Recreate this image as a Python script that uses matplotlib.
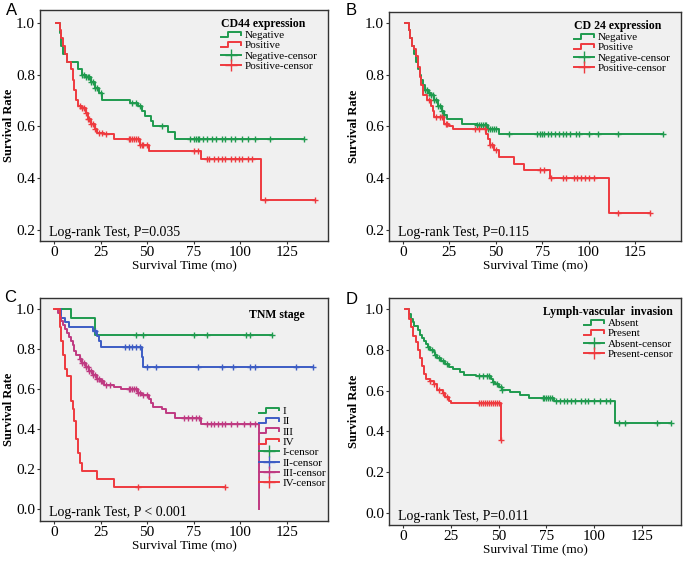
import numpy as np
import matplotlib
matplotlib.use("Agg")
import matplotlib.pyplot as plt
from matplotlib.lines import Line2D
from matplotlib.legend_handler import HandlerBase

plt.rcParams['font.family'] = ['Liberation Serif', 'DejaVu Serif']

GREEN = '#1f9a4e'
RED = '#ee3a3f'
BLUE = '#3d5cc4'
MAGENTA = '#bf3a82'
BG = '#f0f0f0'

# ---- panel A: CD44 ----
a_neg_t = [1, 3, 3.5, 4, 5, 7, 13, 15, 17, 20, 22, 24, 26, 41, 45, 47, 49, 52, 53, 61, 65, 134]
a_neg_s = [1.0, 0.96, 0.935, 0.91, 0.88, 0.85, 0.82, 0.80, 0.79, 0.77, 0.75, 0.73, 0.70,
           0.69, 0.68, 0.66, 0.64, 0.62, 0.60, 0.58, 0.55, 0.55]
a_neg_c = [15, 16, 17, 18, 19, 20, 21, 22, 23, 25, 42, 44, 46, 58, 73, 75, 76, 77, 78, 80,
           82, 85, 87, 90, 92, 95, 97, 101, 104, 108, 116, 134]
a_pos_t = [1, 3, 4, 5, 6, 7, 9, 10, 11, 12, 13, 15, 17, 18, 20, 22, 23, 27, 32, 46, 51, 79, 111, 140]
a_pos_s = [1.0, 0.97, 0.94, 0.91, 0.88, 0.85, 0.82, 0.78, 0.74, 0.70, 0.68, 0.67, 0.65, 0.63,
           0.61, 0.59, 0.575, 0.57, 0.55, 0.53, 0.505, 0.475, 0.315, 0.315]
a_pos_c = [14, 15, 16, 17, 18, 19, 20, 21, 22, 24, 26, 28, 40, 41, 42, 43, 44, 45, 46, 47, 48, 50,
           75, 77, 82, 83, 86, 88, 90, 92, 95, 97, 99, 101, 104, 106, 113, 140]

# ---- panel B: CD24 ----
b_neg_t = [1, 3, 4, 5, 6, 7, 8, 9, 10, 11, 12, 14, 15, 17, 19, 21, 22, 24, 32, 40, 46, 52, 140]
b_neg_s = [1.0, 0.97, 0.94, 0.91, 0.88, 0.85, 0.82, 0.80, 0.78, 0.76, 0.74, 0.73, 0.72, 0.70,
           0.68, 0.66, 0.645, 0.63, 0.61, 0.605, 0.59, 0.57, 0.57]
b_neg_c = [12, 13, 14, 15, 16, 17, 18, 19, 20, 21, 22, 40, 41, 42, 43, 44, 45, 46, 47, 48, 49, 50,
           57, 72, 74, 75, 76, 78, 80, 82, 84, 86, 88, 90, 93, 95, 100, 105, 116, 140]
b_pos_t = [1, 3, 4, 5, 6, 7, 8, 9, 10, 11, 13, 15, 16, 17, 22, 25, 27, 45, 46, 47, 49, 52, 60,
           65, 79, 111, 133]
b_pos_s = [1.0, 0.97, 0.94, 0.91, 0.90, 0.87, 0.83, 0.79, 0.76, 0.72, 0.70, 0.68, 0.66, 0.635,
           0.61, 0.60, 0.59, 0.57, 0.55, 0.53, 0.51, 0.48, 0.455, 0.43, 0.40, 0.265, 0.265]
b_pos_c = [14, 18, 20, 21, 23, 24, 39, 41, 44, 47, 48, 50, 74, 76, 80, 86, 88, 92, 94, 96, 98,
           100, 103, 116, 133]

# ---- panel C: TNM stage ----
c1_t = [1, 9, 22, 117]
c1_s = [1.0, 0.955, 0.87, 0.87]
c1_c = [44, 48, 75, 82, 103, 105, 117]
c2_t = [2, 4, 6, 8, 21, 23, 24, 25, 47, 48, 139]
c2_s = [1.0, 0.955, 0.935, 0.91, 0.89, 0.865, 0.84, 0.81, 0.76, 0.71, 0.71]
c2_c = [22, 38, 40, 42, 44, 46, 50, 55, 77, 90, 96, 105, 108, 130, 139]
c3_t = [1, 2, 3, 4, 5, 6, 7, 8, 9, 10, 11, 12, 14, 15, 17, 19, 21, 23, 25, 27, 32, 36, 45,
        47, 51, 52, 53, 58, 60, 65, 79, 110]
c3_s = [1.0, 0.98, 0.96, 0.94, 0.92, 0.90, 0.88, 0.86, 0.84, 0.82, 0.79, 0.77, 0.75, 0.73,
        0.71, 0.69, 0.67, 0.65, 0.64, 0.62, 0.61, 0.60, 0.58, 0.57, 0.55, 0.53, 0.51, 0.50,
        0.48, 0.455, 0.425, 0.0]
c3_c = [14, 15, 16, 17, 18, 19, 20, 21, 22, 23, 24, 25, 26, 28, 30, 40, 41, 42, 43, 44, 45,
        46, 48, 50, 70, 72, 74, 76, 78, 82, 84, 86, 88, 90, 92, 95, 98, 102, 105, 108]
c4_t = [0, 3, 4, 5, 6, 7, 9, 10, 11, 12, 13, 14, 15, 23, 32, 92]
c4_s = [1.0, 0.91, 0.84, 0.77, 0.70, 0.665, 0.54, 0.50, 0.44, 0.35, 0.28, 0.23, 0.19, 0.15,
        0.11, 0.11]
c4_c = [45, 92]

# ---- panel D: lymph-vascular invasion ----
d_abs_t = [2, 3, 4, 5, 6, 8, 9, 10, 11, 12, 13, 14, 16, 17, 18, 20, 22, 24, 26, 30, 32, 38,
           46, 47, 48, 50, 52, 56, 61, 66, 79, 111, 140]
d_abs_s = [1.0, 0.975, 0.95, 0.935, 0.915, 0.895, 0.875, 0.86, 0.845, 0.83, 0.815, 0.80,
           0.79, 0.775, 0.76, 0.745, 0.73, 0.715, 0.705, 0.69, 0.675, 0.67, 0.655, 0.64, 0.63,
           0.62, 0.605, 0.595, 0.58, 0.565, 0.55, 0.44, 0.44]
d_abs_c = [13, 15, 17, 19, 21, 23, 40, 42, 44, 45, 47, 49, 51, 52, 73, 74, 75, 76, 77, 78,
           80, 82, 84, 86, 88, 90, 93, 95, 97, 100, 103, 106, 108, 113, 116, 133, 140]
d_pre_t = [1, 3, 4, 5, 7, 8, 9, 10, 11, 12, 14, 16, 18, 21, 22, 24, 25, 51]
d_pre_s = [1.0, 0.95, 0.91, 0.87, 0.84, 0.80, 0.76, 0.72, 0.68, 0.655, 0.645, 0.63, 0.605,
           0.59, 0.57, 0.55, 0.54, 0.36]
d_pre_c = [14, 16, 19, 21, 23, 40, 41, 42, 43, 44, 45, 46, 47, 48, 49, 50, 51]


class StepHandler(HandlerBase):
    def create_artists(self, legend, orig_handle, xdescent, ydescent, width, height, fontsize, trans):
        x = np.array([0, 0.35, 0.35, 1.0, 1.0]) * width - xdescent
        y = np.array([0.15, 0.15, 0.8, 0.8, 0.45]) * height - ydescent
        ln = Line2D(x, y, color=orig_handle.get_color(), lw=orig_handle.get_linewidth(),
                    transform=trans)
        return [ln]


class StepKey(Line2D):
    pass


def km(ax, t, s, c, color):
    t = np.asarray(t, float)
    s = np.asarray(s, float)
    ax.step(t, s, where='post', color=color, lw=1.4)
    c = np.asarray(c, float)
    idx = np.searchsorted(t, c, side='right') - 1
    ax.plot(c, s[idx], ls='none', marker='+', ms=5, mew=1.0, color=color)


def style(ax, xlim, ylim, yticks, ptext, ylab_x):
    ax.set_facecolor(BG)
    ax.set_xlim(*xlim)
    ax.set_ylim(*ylim)
    ax.set_xticks([0, 25, 50, 75, 100, 125])
    ax.set_yticks(yticks)
    ax.set_yticklabels(['%.1f' % v for v in yticks])
    ax.tick_params(labelsize=11, length=2, width=0.8, color='#333333', pad=1.5)
    for sp in ax.spines.values():
        sp.set_color('#333333')
        sp.set_linewidth(1.0)
    ax.set_xlabel('Survival Time (mo)', fontsize=9.5, labelpad=0)
    ax.set_ylabel('Survival Rate', fontsize=9, fontweight='bold')
    ax.yaxis.set_label_coords(ylab_x, 0.5)
    ax.text(0.03, 0.01, ptext, transform=ax.transAxes, fontsize=10, va='bottom', ha='left')


def legend(ax, names, colors, title, anchor, align='left'):
    handles = [StepKey([], [], color=col, lw=1.4) for col in colors]
    handles += [Line2D([], [], color=col, lw=1.4, marker='+', ms=8, mew=1.0) for col in colors]
    labels = list(names) + [n + '-censor' for n in names]
    lg = ax.legend(handles, labels, loc='upper right', bbox_to_anchor=anchor,
                   frameon=False, fontsize=8, handlelength=1.8, handletextpad=0.3,
                   labelspacing=0.05, borderpad=0.2, numpoints=1,
                   title=title, title_fontproperties={'weight': 'bold', 'size': 8.5},
                   alignment=align, handler_map={StepKey: StepHandler()})
    return lg


fig = plt.figure(figsize=(6.85, 5.61), dpi=100)
axA = fig.add_axes([0.0584, 0.5704, 0.4204, 0.4118])
axB = fig.add_axes([0.5679, 0.5704, 0.4263, 0.4082])
axC = fig.add_axes([0.0584, 0.0713, 0.4204, 0.3975])
axD = fig.add_axes([0.5679, 0.0642, 0.4263, 0.4046])

km(axA, a_neg_t, a_neg_s, a_neg_c, GREEN)
km(axA, a_pos_t, a_pos_s, a_pos_c, RED)
style(axA, (-7.5, 147), (0.158, 1.049), [0.2, 0.4, 0.6, 0.8, 1.0], 'Log-rank Test, P=0.035', -0.088)
legend(axA, ['Negative', 'Positive'], [GREEN, RED], 'CD44 expression', (0.99, 1.0))

km(axB, b_neg_t, b_neg_s, b_neg_c, GREEN)
km(axB, b_pos_t, b_pos_s, b_pos_c, RED)
style(axB, (-7.5, 149.8), (0.158, 1.041), [0.2, 0.4, 0.6, 0.8, 1.0], 'Log-rank Test, P=0.115', -0.1)
legend(axB, ['Negative', 'Positive'], [GREEN, RED], 'CD 24 expression', (0.99, 1.0))

km(axC, c1_t, c1_s, c1_c, GREEN)
km(axC, c2_t, c2_s, c2_c, BLUE)
km(axC, c3_t, c3_s, c3_c, MAGENTA)
km(axC, c4_t, c4_s, c4_c, RED)
style(axC, (-7.5, 147), (-0.06, 1.055), [0.0, 0.2, 0.4, 0.6, 0.8, 1.0], 'Log-rank Test, P < 0.001', -0.088)
legend(axC, ['I', 'II', 'III', 'IV'], [GREEN, BLUE, MAGENTA, RED], None, (1.02, 0.55))
axC.text(0.92, 0.95, 'TNM stage', transform=axC.transAxes, fontsize=8.5, fontweight='bold',
         ha='right', va='top')

km(axD, d_abs_t, d_abs_s, d_abs_c, GREEN)
km(axD, d_pre_t, d_pre_s, d_pre_c, RED)
style(axD, (-7.3, 145.4), (-0.059, 1.054), [0.0, 0.2, 0.4, 0.6, 0.8, 1.0], 'Log-rank Test, P=0.011', -0.1)
legend(axD, ['Absent', 'Present'], [GREEN, RED], 'Lymph-vascular  invasion', (1.0, 1.0), 'right')

for lab, x, y in [('A', 0.008, 0.995), ('B', 0.505, 0.995), ('C', 0.006, 0.483), ('D', 0.505, 0.48)]:
    fig.text(x, y, lab, fontsize=12, family=['Liberation Sans', 'DejaVu Sans'], va='top', ha='left')

fig.savefig('out.png', dpi=100)
